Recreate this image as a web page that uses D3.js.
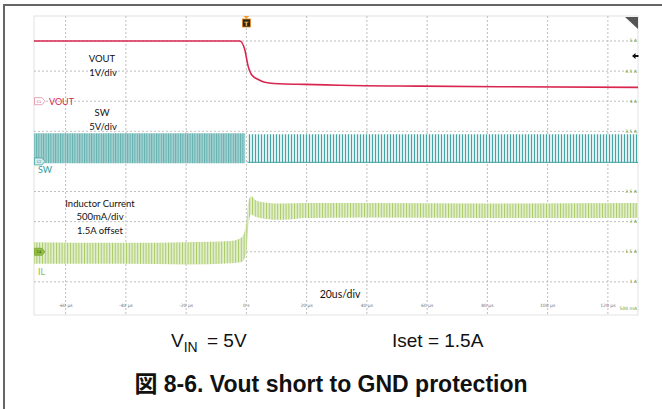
<!DOCTYPE html>
<html lang="en">
    <head>
        <meta charset="utf-8">
        <title>Vout short to GND protection</title>
        <script src="https://d3js.org/d3.v7.min.js"></script>
        <style type="text/css">
          body {
            margin: 0;
            background-color: white;
          }
          .note {
            font-family: Lato, "Open Sans", sans-serif;
            font-size: 9.5px;
            fill: #111;
          }
          .tickLabel {
            font-family: "DejaVu Sans", sans-serif;
            font-size: 4.5px;
            fill: #777;
          }
          .ampLabel {
            font-family: "DejaVu Sans", sans-serif;
            font-size: 4.5px;
            fill: #6f9a2c;
          }
          .caption {
            font-family: "Liberation Sans", Arial, "Noto Sans CJK JP", sans-serif;
            font-size: 19px;
            fill: #111;
          }
          .title {
            font-family: "Liberation Sans", Arial, "Noto Sans CJK JP", sans-serif;
            font-size: 23px;
            font-weight: bold;
            fill: #111;
          }
        </style>
    </head>
    <body>
        <svg></svg>

        <script type="text/javascript">

        // time axis (us) and right-hand current axis (A)
        const timeTicks = [-60, -40, -20, 0, 20, 40, 60, 80, 100, 120];
        const timeLabels = ["-60 µs", "-40 µs", "-20 µs", "0 s", "20 µs", "40 µs", "60 µs", "80 µs", "100 µs", "120 µs"];
        const ampTicks = [1, 1.5, 2, 2.5, 3, 3.5, 4, 4.5, 5];
        const ampLabels = ["1 A", "1.5 A", "2 A", "2.5 A", "3 A", "3.5 A", "4 A", "4.5 A", "5 A"];

        // VOUT (C1, 1V/div)
        const voutTime = [-70.5, -2.2, -0.5, 0.5, 1.8, 3.8, 6.1, 12.8, 19.4, 31, 58, 84, 130];
        const voutVolt = [2.0, 2.0, 1.70, 1.20, 0.87, 0.73, 0.63, 0.57, 0.56, 0.53, 0.50, 0.48, 0.46];

        // SW (C2, 5V/div) switching envelope, before and after the short
        const swPreTime = [-70.5, -0.4];
        const swPreHi = [4.7, 4.7];
        const swPreLo = [-0.3, -0.3];
        const swPostTime = [0.4, 130];
        const swPostHi = [4.5, 4.5];
        const swPostLo = [-0.2, -0.2];

        // IL (C4, 500mA/div, 1.5A offset) ripple envelope
        const ilTime = [-70.5, -40, -20, -5, -1.5, 0, 0.7, 1.6, 3, 6, 12, 20, 40, 80, 130];
        const ilHi = [1.66, 1.65, 1.66, 1.68, 1.74, 1.98, 2.34, 2.42, 2.36, 2.32, 2.30, 2.31, 2.31, 2.30, 2.31];
        const ilLo = [1.30, 1.30, 1.29, 1.31, 1.33, 1.48, 1.95, 2.12, 2.08, 2.05, 2.03, 2.06, 2.07, 2.06, 2.06];

        const width = 662;
        const height = 409;
        const plot = {left: 34, right: 638, top: 16, bottom: 315};

        const svg = d3.select("svg")
          .attr("width", width)
          .attr("height", height);

        const x = d3.scaleLinear().domain([-70.5, 130]).range([plot.left, plot.right]);
        // everything is placed on the current scale; other channels get their offset/div
        const y = d3.scaleLinear().domain([0.45, 5.415]).range([plot.bottom, plot.top]);
        const voutToA = v => 4 + v * 0.5;   // ground on 4 A line, 1 V per 0.5 A div
        const swToA = v => 3 + v * 0.1;     // ground on 3 A line, 5 V per div

        // outer frame of the figure
        svg.append("path")
          .attr("d", "M4,409 V5 H662")
          .attr("fill", "none")
          .attr("stroke", "#666")
          .attr("stroke-width", 2);

        // hatching patterns for the switching traces
        const defs = svg.append("defs");
        function hatch(id, bg, line, step, w) {
            const p = defs.append("pattern")
              .attr("id", id)
              .attr("patternUnits", "userSpaceOnUse")
              .attr("width", step)
              .attr("height", 10);
            p.append("rect").attr("width", step).attr("height", 10).attr("fill", bg);
            p.append("rect").attr("width", w).attr("height", 10).attr("fill", line);
        }
        hatch("swPre", "#a8d2d2", "#62b0b0", 2.4, 1);
        hatch("swPost", "#e0f0f0", "#46a4a4", 3, 1);
        hatch("ilHatch", "#e2eecd", "#a9cc68", 2.8, 1);

        // grid
        svg.append("rect")
          .attr("x", plot.left).attr("y", plot.top)
          .attr("width", plot.right - plot.left).attr("height", plot.bottom - plot.top)
          .attr("fill", "white")
          .attr("stroke", "#e2e2e2");

        svg.selectAll(".vgrid")
          .data(timeTicks)
          .enter()
          .append("line")
          .attr("x1", d => x(d)).attr("x2", d => x(d))
          .attr("y1", plot.top).attr("y2", plot.bottom)
          .attr("stroke", "#bdbdbd")
          .attr("stroke-dasharray", "2,2");

        svg.selectAll(".hgrid")
          .data(ampTicks)
          .enter()
          .append("line")
          .attr("x1", plot.left).attr("x2", plot.right)
          .attr("y1", d => y(d)).attr("y2", d => y(d))
          .attr("stroke", "#bdbdbd")
          .attr("stroke-dasharray", "2,2");

        svg.selectAll(".tickLabel")
          .data(timeTicks)
          .enter()
          .append("text")
          .attr("class", "tickLabel")
          .attr("x", d => x(d))
          .attr("y", 307)
          .attr("text-anchor", "middle")
          .text((d, i) => timeLabels[i]);

        svg.selectAll(".ampLabel")
          .data(ampTicks)
          .enter()
          .append("text")
          .attr("class", "ampLabel")
          .attr("x", plot.right - 1)
          .attr("y", d => y(d) + 1.5)
          .attr("text-anchor", "end")
          .text((d, i) => ampLabels[i]);

        svg.append("text")
          .attr("class", "ampLabel")
          .attr("x", plot.right - 1)
          .attr("y", 310)
          .attr("text-anchor", "end")
          .text("500 mA");

        // SW trace
        function band(times, hi, lo, toA) {
            return d3.area()
              .x((d, i) => x(times[i]))
              .y0((d, i) => y(toA(lo[i])))
              .y1((d, i) => y(toA(hi[i])))
              .curve(d3.curveMonotoneX)(times);
        }
        svg.append("path")
          .attr("d", band(swPreTime, swPreHi, swPreLo, swToA))
          .attr("fill", "url(#swPre)");
        svg.append("path")
          .attr("d", band(swPostTime, swPostHi, swPostLo, swToA))
          .attr("fill", "url(#swPost)");
        svg.append("path")
          .attr("d", d3.line().x((d, i) => x(swPostTime[i])).y((d, i) => y(swToA(swPostLo[i]) + 0.005))(swPostTime))
          .attr("stroke", "#46a4a4")
          .attr("stroke-width", 1)
          .attr("fill", "none");

        // IL trace
        svg.append("path")
          .attr("d", band(ilTime, ilHi, ilLo, d => d))
          .attr("fill", "url(#ilHatch)");

        // VOUT trace
        svg.append("path")
          .attr("d", d3.line()
            .x((d, i) => x(voutTime[i]))
            .y((d, i) => y(voutToA(voutVolt[i])))
            .curve(d3.curveMonotoneX)(voutTime))
          .attr("stroke", "#d9264f")
          .attr("stroke-width", 1.6)
          .attr("fill", "none");

        // channel ground markers
        function tag(yPos, stroke, fill, textColor, label) {
            const g = svg.append("g").attr("transform", "translate(" + [plot.left, yPos] + ")");
            g.append("path")
              .attr("d", "M0.5,-3.5 H8 L11,0 L8,3.5 H0.5 Z")
              .attr("fill", fill)
              .attr("stroke", stroke)
              .attr("stroke-width", 0.8);
            g.append("text")
              .attr("x", 5).attr("y", 1.4)
              .attr("text-anchor", "middle")
              .attr("font-family", "DejaVu Sans, sans-serif")
              .attr("font-size", "3.5px")
              .attr("fill", textColor)
              .text(label);
        }
        tag(y(voutToA(0)), "#e58ea3", "white", "#d9264f", "C1");
        tag(y(swToA(0)), "#4aa5a5", "#d4ebeb", "#2b8585", "C2");
        tag(y(1.5), "#7aa934", "#8fbd40", "#2f4a0c", "C4");

        svg.append("text")
          .attr("x", 49).attr("y", y(voutToA(0)) + 3.5)
          .attr("font-family", "Lato, sans-serif").attr("font-size", "9px")
          .attr("fill", "#d9264f")
          .text("VOUT");
        svg.append("text")
          .attr("x", 38).attr("y", y(swToA(0)) + 11.5)
          .attr("font-family", "Lato, sans-serif").attr("font-size", "9px")
          .attr("fill", "#2fa0a0")
          .text("SW");
        svg.append("text")
          .attr("x", 38).attr("y", 275)
          .attr("font-family", "Lato, sans-serif").attr("font-size", "9px")
          .attr("fill", "#8fbd40")
          .text("IL");

        // trigger marker
        const tx = x(0);
        svg.append("path")
          .attr("d", "M" + (tx - 3) + ",16 h6 l-3,3 z")
          .attr("fill", "#f0a030");
        svg.append("rect")
          .attr("x", tx - 4).attr("y", 19)
          .attr("width", 8).attr("height", 8)
          .attr("fill", "#2c2418")
          .attr("stroke", "#e08a1e")
          .attr("stroke-width", 0.8);
        svg.append("text")
          .attr("x", tx).attr("y", 25.5)
          .attr("text-anchor", "middle")
          .attr("font-family", "DejaVu Sans, sans-serif")
          .attr("font-size", "6px")
          .attr("font-weight", "bold")
          .attr("fill", "#f5c070")
          .text("T");

        // trigger level arrow and corner badge
        svg.append("path")
          .attr("d", "M632,56 l3.5,-3 v2 h3 v2 h-3 v2 z")
          .attr("fill", "#111");
        svg.append("path")
          .attr("d", "M625,17 H638 V29 Z")
          .attr("fill", "#555");

        // annotations on the screen
        const notes = [
          {t: "VOUT", x: 102, y: 62},
          {t: "1V/div", x: 103, y: 76},
          {t: "SW", x: 102, y: 116},
          {t: "5V/div", x: 103, y: 130},
          {t: "Inductor Current", x: 100, y: 207},
          {t: "500mA/div", x: 100, y: 220},
          {t: "1.5A offset", x: 100, y: 234},
          {t: "20us/div", x: 340, y: 298}
        ];
        svg.selectAll(".note")
          .data(notes)
          .enter()
          .append("text")
          .attr("class", "note")
          .attr("x", d => d.x)
          .attr("y", d => d.y)
          .attr("text-anchor", "middle")
          .style("font-size", d => d.t === "20us/div" ? "10.5px" : null)
          .text(d => d.t);

        // captions below the scope shot
        const vin = svg.append("text")
          .attr("class", "caption")
          .attr("x", 171).attr("y", 347);
        vin.append("tspan").text("V");
        vin.append("tspan").attr("dy", 5).style("font-size", "14px").text("IN");
        vin.append("tspan").attr("dy", -5).attr("dx", 4).text(" = 5V");

        svg.append("text")
          .attr("class", "caption")
          .attr("x", 392).attr("y", 347)
          .text("Iset = 1.5A");

        svg.append("text")
          .attr("class", "title")
          .attr("x", 331).attr("y", 392)
          .attr("text-anchor", "middle")
          .text("図 8-6. Vout short to GND protection");

        </script>
    </body>
</html>
